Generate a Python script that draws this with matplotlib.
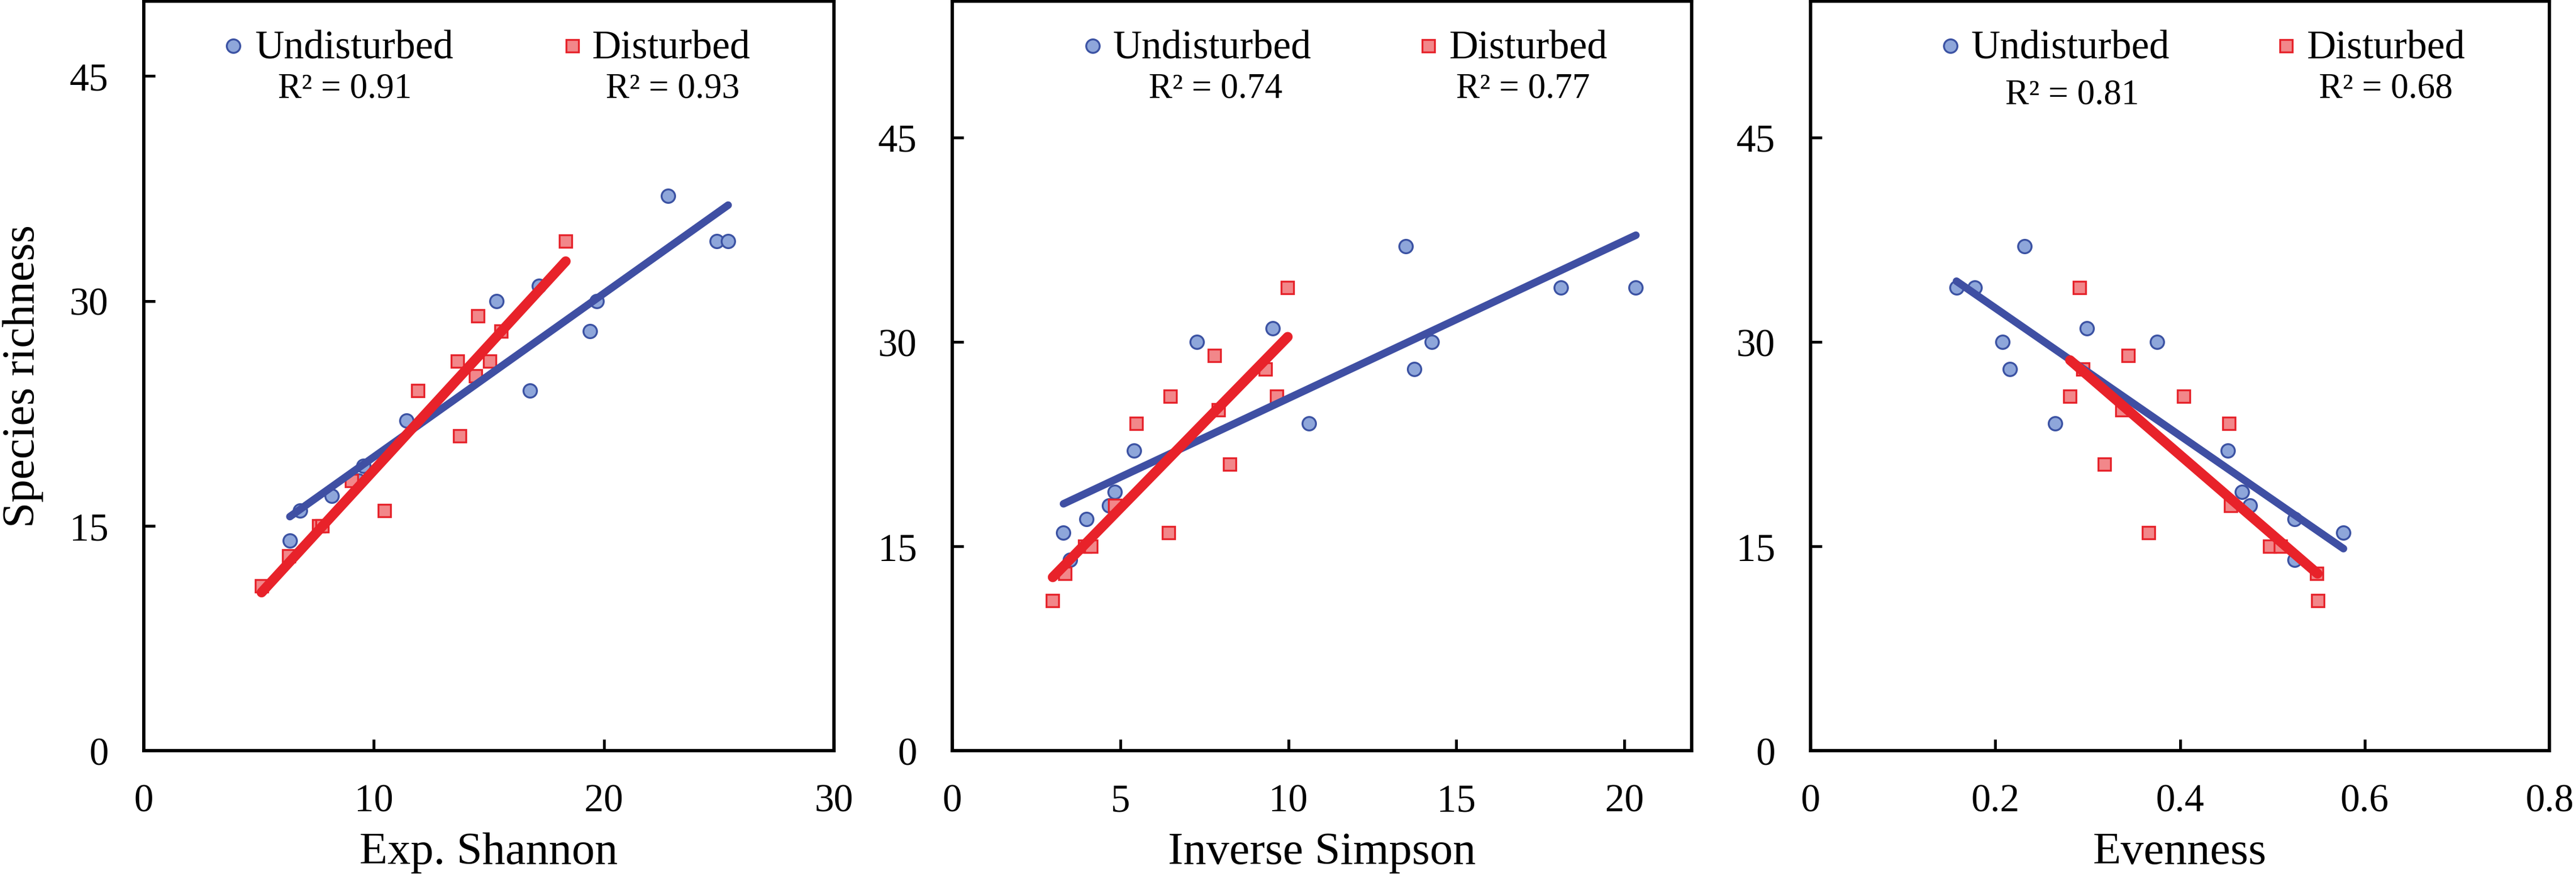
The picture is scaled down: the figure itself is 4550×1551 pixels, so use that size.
import numpy as np
import matplotlib
matplotlib.use("Agg")
import matplotlib.pyplot as plt

plt.rcParams['font.family'] = ['Liberation Serif', 'DejaVu Serif']

# values
richness_und = [14, 16, 17, 18, 19, 22, 30, 31, 24, 28, 30, 37, 34, 34]
richness_dis = [11, 13, 15, 15, 18, 16, 24, 26, 21, 25, 29, 26, 28, 34]

shannon_und = [6.35, 6.79, 8.17, 9.33, 9.55, 11.42, 15.33, 17.17, 16.79, 19.39, 19.70, 22.78, 24.90, 25.40]
shannon_dis = [5.12, 6.30, 7.60, 7.75, 9.04, 10.46, 11.92, 13.64, 13.74, 14.41, 14.52, 15.03, 15.53, 18.34]

simpson_und = [3.51, 3.31, 4.00, 4.67, 4.83, 5.40, 7.28, 9.53, 10.62, 13.75, 14.27, 13.49, 18.11, 20.34]
simpson_dis = [2.99, 3.36, 3.95, 4.12, 4.83, 6.43, 5.48, 6.48, 8.25, 7.91, 7.80, 9.66, 9.31, 9.98]

even_und = [0.524, 0.577, 0.524, 0.476, 0.467, 0.452, 0.208, 0.299, 0.265, 0.216, 0.375, 0.232, 0.158, 0.178]
even_dis = [0.549, 0.548, 0.497, 0.509, 0.455, 0.366, 0.453, 0.281, 0.318, 0.337, 0.344, 0.404, 0.295, 0.291]

r2_und = ["0.91", "0.74", "0.81"]
r2_dis = ["0.93", "0.77", "0.68"]

x_labels = ["Exp. Shannon", "Inverse Simpson", "Evenness"]
x_ticks = [[0, 10, 20, 30], [0, 5, 10, 15, 20], [0, 0.2, 0.4, 0.6, 0.8]]
x_ticklabels = [["0", "10", "20", "30"], ["0", "5", "10", "15", "20"], ["0", "0.2", "0.4", "0.6", "0.8"]]
x_lims = [(0, 30), (0, 22), (0, 0.8)]
y_lims = [(0, 50), (0, 55), (0, 55)]
y_ticks = [0, 15, 30, 45]

# colours
und_fill = "#8ea6da"
und_edge = "#3b52a3"
und_line = "#3f4fa3"
dis_fill = "#f2878a"
dis_edge = "#e6232b"
dis_line = "#e8222a"

fig = plt.figure(figsize=(4550 / 300, 1552 / 300), dpi=300)
W, H = 4550, 1552
boxes = [(254, 1473), (1682, 2988), (3198, 4503)]
top, bottom = 3, 1327

# legend/label positions per panel in axes fraction
leg_pos = [
    dict(c=0.130, ct=0.161, s=0.621, st=0.650, r1=0.291, r2=0.766, r1y=0.872),
    dict(c=0.190, ct=0.217, s=0.644, st=0.672, r1=0.356, r2=0.772, r1y=0.872),
    dict(c=0.189, ct=0.217, s=0.644, st=0.672, r1=0.354, r2=0.779, r1y=0.864),
]

xs_und = [shannon_und, simpson_und, even_und]
xs_dis = [shannon_dis, simpson_dis, even_dis]

for i in range(3):
    l, r = boxes[i]
    ax = fig.add_axes([l / W, (H - bottom) / H, (r - l) / W, (bottom - top) / H])

    xu = np.array(xs_und[i])
    yu = np.array(richness_und)
    xd = np.array(xs_dis[i])
    yd = np.array(richness_dis)

    ax.plot(xu, yu, 'o', ms=5.7, mfc=und_fill, mec=und_edge, mew=0.8, zorder=2)
    ax.plot(xd, yd, 's', ms=5.3, mfc=dis_fill, mec=dis_edge, mew=0.8, zorder=2)

    # linear trend lines over each series range
    for x, y, col, lw in [(xu, yu, und_line, 3.2), (xd, yd, dis_line, 4.2)]:
        k, b = np.polyfit(x, y, 1)
        xx = np.array([x.min(), x.max()])
        ax.plot(xx, k * xx + b, color=col, lw=lw, solid_capstyle='round', zorder=3)

    ax.set_xlim(*x_lims[i])
    ax.set_ylim(*y_lims[i])
    ax.set_xticks(x_ticks[i])
    ax.set_xticklabels(x_ticklabels[i])
    ax.set_yticks(y_ticks)
    ax.tick_params(direction='in', length=4.8, width=1.2, labelsize=16.5)
    ax.tick_params(axis='x', pad=14)
    ax.tick_params(axis='y', pad=15)
    for sp in ax.spines.values():
        sp.set_linewidth(1.4)
    ax.set_xlabel(x_labels[i], fontsize=19.5, labelpad=5)
    if i == 0:
        ax.set_ylabel("Species richness", fontsize=19.5, labelpad=11)

    p = leg_pos[i]
    ax.plot([p['c']], [0.940], 'o', ms=5.7, mfc=und_fill, mec=und_edge, mew=0.8,
            transform=ax.transAxes, clip_on=False)
    ax.text(p['ct'], 0.924, "Undisturbed", transform=ax.transAxes, fontsize=17,
            ha='left', va='baseline')
    ax.plot([p['s']], [0.940], 's', ms=5.3, mfc=dis_fill, mec=dis_edge, mew=0.8,
            transform=ax.transAxes, clip_on=False)
    ax.text(p['st'], 0.924, "Disturbed", transform=ax.transAxes, fontsize=17,
            ha='left', va='baseline')
    ax.text(p['r1'], p['r1y'], "R\u00b2 = " + r2_und[i], transform=ax.transAxes,
            fontsize=15, ha='center', va='baseline')
    ax.text(p['r2'], 0.872, "R\u00b2 = " + r2_dis[i], transform=ax.transAxes,
            fontsize=15, ha='center', va='baseline')

fig.savefig("out.png", dpi=300)
